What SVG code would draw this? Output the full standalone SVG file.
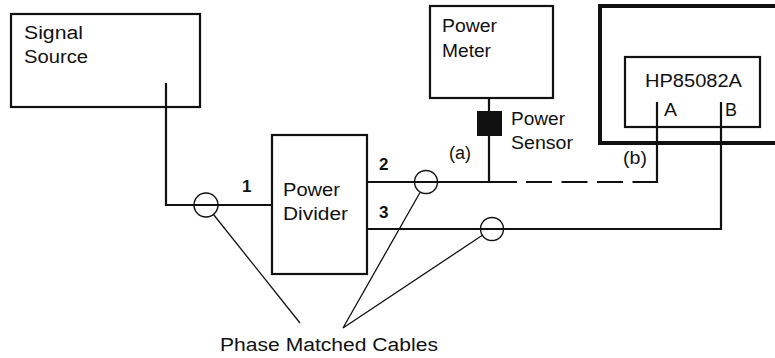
<svg xmlns="http://www.w3.org/2000/svg" width="775" height="358" viewBox="0 0 775 358">
<style>
.box{fill:none;stroke:#111;stroke-width:2.2}
.thick{fill:none;stroke:#111;stroke-width:4}
.w{fill:none;stroke:#111;stroke-width:2.2}
.dash{fill:none;stroke:#111;stroke-width:2.2;stroke-dasharray:26 9.5}
.lead{fill:none;stroke:#111;stroke-width:1.3}
.ring{fill:none;stroke:#111;stroke-width:1.4}
text{font-family:"Liberation Sans",Arial,sans-serif;font-size:18px;fill:#111;lengthAdjust:spacingAndGlyphs}
.num{font-weight:bold;font-size:17px}
</style>
<rect width="775" height="358" fill="#fff"/>
<g id="connectors">
<path class="w" d="M166 83 V205 H272"/>
<path class="w" d="M367 182 H517"/>
<path class="dash" d="M526 182 H657"/>
<path class="w" d="M657 183 V102"/>
<path class="w" d="M489 98 V111 M489 136 V182"/>
<path class="w" d="M367 229 H721 V102"/>
<circle class="ring" cx="206" cy="205" r="12"/>
<circle class="ring" cx="426" cy="182" r="11.5"/>
<circle class="ring" cx="492" cy="229" r="11.5"/>
<path class="lead" d="M213.5 214.5 L300 323"/>
<path class="lead" d="M420 192.5 L343 328 L482 235.5"/>
</g>
<g id="signal-source">
<rect class="box" x="11" y="14" width="189" height="93"/>
<text x="24" y="39" textLength="59" lengthAdjust="spacingAndGlyphs">Signal</text>
<text x="24" y="63" textLength="64" lengthAdjust="spacingAndGlyphs">Source</text>
</g>
<g id="power-meter">
<rect class="box" x="430" y="6" width="123" height="92"/>
<text x="442" y="32" textLength="55" lengthAdjust="spacingAndGlyphs">Power</text>
<text x="442" y="57" textLength="49" lengthAdjust="spacingAndGlyphs">Meter</text>
</g>
<g id="power-sensor">
<rect x="477" y="111" width="25" height="25" fill="#111"/>
<text x="511" y="125" textLength="54" lengthAdjust="spacingAndGlyphs">Power</text>
<text x="511" y="149" textLength="62" lengthAdjust="spacingAndGlyphs">Sensor</text>
<text x="449" y="159" textLength="22" lengthAdjust="spacingAndGlyphs">(a)</text>
</g>
<g id="power-divider">
<rect class="box" x="272" y="135" width="95" height="139"/>
<text x="283" y="196" textLength="57" lengthAdjust="spacingAndGlyphs">Power</text>
<text x="283" y="220" textLength="65" lengthAdjust="spacingAndGlyphs">Divider</text>
<text class="num" x="242" y="192">1</text>
<text class="num" x="379" y="170">2</text>
<text class="num" x="379" y="218">3</text>
</g>
<g id="analyzer">
<rect class="thick" x="600" y="6" width="185" height="137"/>
<rect class="box" x="625" y="57" width="135" height="70"/>
<text x="645" y="87" textLength="97" lengthAdjust="spacingAndGlyphs">HP85082A</text>
<text x="664" y="116" textLength="13" lengthAdjust="spacingAndGlyphs">A</text>
<text x="725" y="116" textLength="12" lengthAdjust="spacingAndGlyphs">B</text>
<text x="623" y="164" textLength="24" lengthAdjust="spacingAndGlyphs">(b)</text>
</g>
<g id="label-cables">
<text x="220" y="351" textLength="218" lengthAdjust="spacingAndGlyphs">Phase Matched Cables</text>
</g>
</svg>
